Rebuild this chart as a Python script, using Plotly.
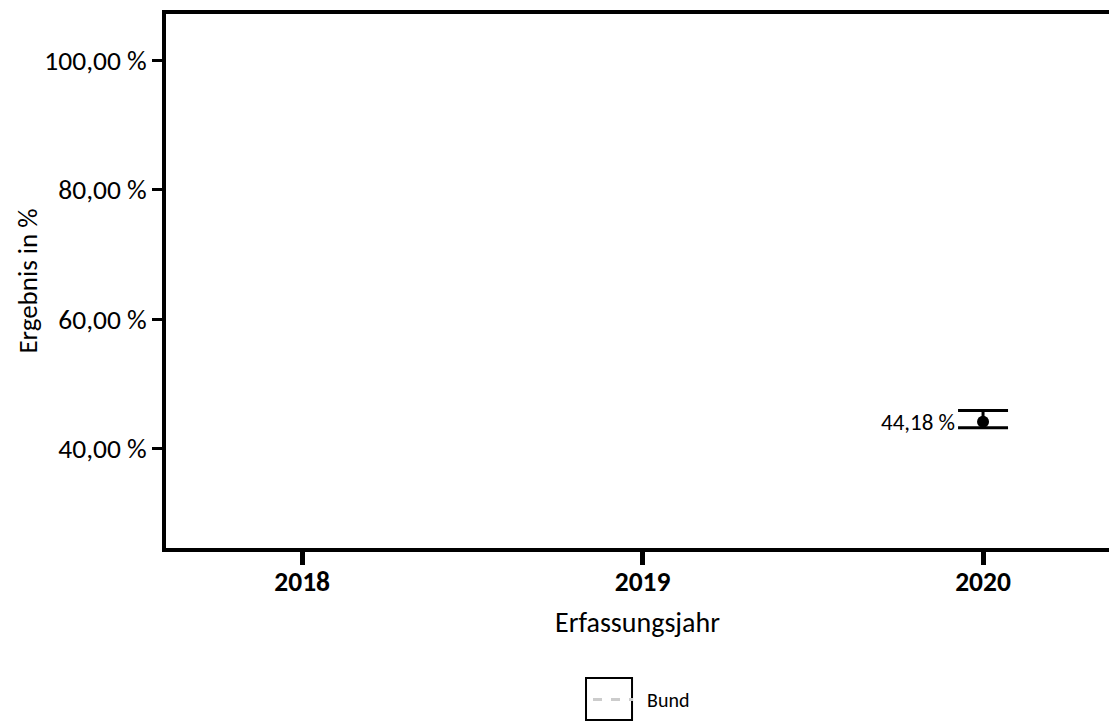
import plotly.graph_objects as go

years = [2020]
values = [44.18]
ci_upper = [45.91]
ci_lower = [43.24]

x_ticks = [2018, 2019, 2020]
x_ticklabels = ["2018", "2019", "2020"]
y_ticks = [40, 60, 80, 100]
y_ticklabels = ["40,00 %", "60,00 %", "80,00 %", "100,00 %"]

FONT = "Carlito, Calibri, Lato, sans-serif"

fig = go.Figure()

fig.add_trace(go.Scatter(
    x=years, y=values, mode="markers",
    marker=dict(color="black", size=12),
    error_y=dict(type="data", symmetric=False,
                 array=[u - v for u, v in zip(ci_upper, values)],
                 arrayminus=[v - l for l, v in zip(ci_lower, values)],
                 color="black", thickness=3, width=25),
    showlegend=False, hoverinfo="skip",
))

fig.add_trace(go.Scatter(
    x=[None], y=[None], mode="lines", name="\u00a0\u00a0Bund",
    line=dict(color="#cccccc", dash="dash", width=3),
))

for x, v in zip(years, values):
    fig.add_annotation(x=x, y=v, text=f"{v:.2f} %".replace(".", ","),
                       showarrow=False, xanchor="right", xshift=-26,
                       font=dict(family=FONT, size=23, color="black"))

# frame around the legend symbol
fig.add_shape(type="rect", xref="paper", yref="paper",
              x0=0.4454, x1=0.4942, y0=-0.3221, y1=-0.2434,
              line=dict(color="black", width=2), fillcolor="rgba(0,0,0,0)")

fig.update_layout(
    width=1109, height=724,
    margin=dict(l=166, r=0, t=14, b=176),
    plot_bgcolor="white", paper_bgcolor="white",
    font=dict(family=FONT, color="black"),
    xaxis=dict(range=[2017.6, 2020.37], tickvals=x_ticks,
               ticktext=[f"<b>{t}</b>" for t in x_ticklabels],
               tickfont=dict(size=27.5), showgrid=False, zeroline=False,
               showline=True, linecolor="black", linewidth=3.5, mirror=True,
               ticks="outside", ticklen=13, tickwidth=5, tickcolor="black",
               ticklabelstandoff=-7,
               title=dict(text="Erfassungsjahr", font=dict(size=28), standoff=17)),
    yaxis=dict(range=[24.7, 107.1], tickvals=y_ticks, ticktext=y_ticklabels,
               tickfont=dict(size=27.5), showgrid=False, zeroline=False,
               showline=True, linecolor="black", linewidth=3.5,
               ticks="outside", ticklen=10, tickwidth=2.5, tickcolor="black",
               title=dict(text="Ergebnis in %", font=dict(size=27), standoff=0)),
    legend=dict(orientation="h", x=0.4475, xanchor="left", y=-0.2472, yanchor="top",
                itemwidth=40, font=dict(size=20), bgcolor="rgba(0,0,0,0)"),
)

fig.write_html("out.html", config={"displayModeBar": False},
               post_script="document.body.style.margin='0px';document.body.style.overflow='hidden';")
